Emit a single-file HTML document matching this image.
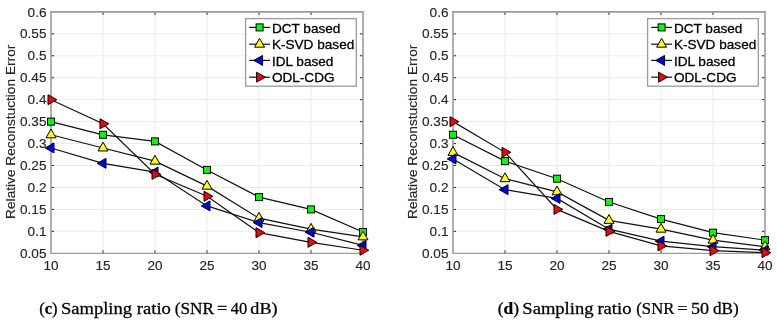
<!DOCTYPE html>
<html><head><meta charset="utf-8"><style>
html,body{margin:0;padding:0;background:#fff;width:777px;height:324px;overflow:hidden}
svg{display:block;will-change:transform}
.t{font-family:"Liberation Sans",sans-serif;font-size:13.6px;fill:#262626;stroke:#262626;stroke-width:0.15px}
.yl{font-size:13.7px}
.lg{font-size:13.6px;fill:#000;stroke:#000;stroke-width:0.3px}
.cap{font-family:"Liberation Serif",serif;font-size:16px;fill:#000;stroke:#000;stroke-width:0.25px}
</style></head><body>
<svg width="777" height="324" viewBox="0 0 777 324">
<rect width="777" height="324" fill="#fff"/>
<line x1="103.00" y1="11.9" x2="103.00" y2="253.3" stroke="#ebebeb" stroke-width="1"/>
<line x1="155.00" y1="11.9" x2="155.00" y2="253.3" stroke="#ebebeb" stroke-width="1"/>
<line x1="207.00" y1="11.9" x2="207.00" y2="253.3" stroke="#ebebeb" stroke-width="1"/>
<line x1="259.00" y1="11.9" x2="259.00" y2="253.3" stroke="#ebebeb" stroke-width="1"/>
<line x1="311.00" y1="11.9" x2="311.00" y2="253.3" stroke="#ebebeb" stroke-width="1"/>
<line x1="51.0" y1="231.35" x2="363.0" y2="231.35" stroke="#ebebeb" stroke-width="1"/>
<line x1="51.0" y1="209.41" x2="363.0" y2="209.41" stroke="#ebebeb" stroke-width="1"/>
<line x1="51.0" y1="187.46" x2="363.0" y2="187.46" stroke="#ebebeb" stroke-width="1"/>
<line x1="51.0" y1="165.52" x2="363.0" y2="165.52" stroke="#ebebeb" stroke-width="1"/>
<line x1="51.0" y1="143.57" x2="363.0" y2="143.57" stroke="#ebebeb" stroke-width="1"/>
<line x1="51.0" y1="121.63" x2="363.0" y2="121.63" stroke="#ebebeb" stroke-width="1"/>
<line x1="51.0" y1="99.68" x2="363.0" y2="99.68" stroke="#ebebeb" stroke-width="1"/>
<line x1="51.0" y1="77.74" x2="363.0" y2="77.74" stroke="#ebebeb" stroke-width="1"/>
<line x1="51.0" y1="55.79" x2="363.0" y2="55.79" stroke="#ebebeb" stroke-width="1"/>
<line x1="51.0" y1="33.85" x2="363.0" y2="33.85" stroke="#ebebeb" stroke-width="1"/>
<line x1="103.00" y1="253.3" x2="103.00" y2="250.3" stroke="#262626" stroke-width="1"/>
<line x1="103.00" y1="11.9" x2="103.00" y2="14.9" stroke="#262626" stroke-width="1"/>
<line x1="155.00" y1="253.3" x2="155.00" y2="250.3" stroke="#262626" stroke-width="1"/>
<line x1="155.00" y1="11.9" x2="155.00" y2="14.9" stroke="#262626" stroke-width="1"/>
<line x1="207.00" y1="253.3" x2="207.00" y2="250.3" stroke="#262626" stroke-width="1"/>
<line x1="207.00" y1="11.9" x2="207.00" y2="14.9" stroke="#262626" stroke-width="1"/>
<line x1="259.00" y1="253.3" x2="259.00" y2="250.3" stroke="#262626" stroke-width="1"/>
<line x1="259.00" y1="11.9" x2="259.00" y2="14.9" stroke="#262626" stroke-width="1"/>
<line x1="311.00" y1="253.3" x2="311.00" y2="250.3" stroke="#262626" stroke-width="1"/>
<line x1="311.00" y1="11.9" x2="311.00" y2="14.9" stroke="#262626" stroke-width="1"/>
<line x1="51.0" y1="231.35" x2="54.0" y2="231.35" stroke="#262626" stroke-width="1"/>
<line x1="363.0" y1="231.35" x2="360.0" y2="231.35" stroke="#262626" stroke-width="1"/>
<line x1="51.0" y1="209.41" x2="54.0" y2="209.41" stroke="#262626" stroke-width="1"/>
<line x1="363.0" y1="209.41" x2="360.0" y2="209.41" stroke="#262626" stroke-width="1"/>
<line x1="51.0" y1="187.46" x2="54.0" y2="187.46" stroke="#262626" stroke-width="1"/>
<line x1="363.0" y1="187.46" x2="360.0" y2="187.46" stroke="#262626" stroke-width="1"/>
<line x1="51.0" y1="165.52" x2="54.0" y2="165.52" stroke="#262626" stroke-width="1"/>
<line x1="363.0" y1="165.52" x2="360.0" y2="165.52" stroke="#262626" stroke-width="1"/>
<line x1="51.0" y1="143.57" x2="54.0" y2="143.57" stroke="#262626" stroke-width="1"/>
<line x1="363.0" y1="143.57" x2="360.0" y2="143.57" stroke="#262626" stroke-width="1"/>
<line x1="51.0" y1="121.63" x2="54.0" y2="121.63" stroke="#262626" stroke-width="1"/>
<line x1="363.0" y1="121.63" x2="360.0" y2="121.63" stroke="#262626" stroke-width="1"/>
<line x1="51.0" y1="99.68" x2="54.0" y2="99.68" stroke="#262626" stroke-width="1"/>
<line x1="363.0" y1="99.68" x2="360.0" y2="99.68" stroke="#262626" stroke-width="1"/>
<line x1="51.0" y1="77.74" x2="54.0" y2="77.74" stroke="#262626" stroke-width="1"/>
<line x1="363.0" y1="77.74" x2="360.0" y2="77.74" stroke="#262626" stroke-width="1"/>
<line x1="51.0" y1="55.79" x2="54.0" y2="55.79" stroke="#262626" stroke-width="1"/>
<line x1="363.0" y1="55.79" x2="360.0" y2="55.79" stroke="#262626" stroke-width="1"/>
<line x1="51.0" y1="33.85" x2="54.0" y2="33.85" stroke="#262626" stroke-width="1"/>
<line x1="363.0" y1="33.85" x2="360.0" y2="33.85" stroke="#262626" stroke-width="1"/>
<path d="M50.2 11.9H363.0V253.3" fill="none" stroke="#9c9c9c" stroke-width="1.6"/>
<path d="M51.0 11.9V253.3" fill="none" stroke="#9c9c9c" stroke-width="1.6"/>
<path d="M50.2 253.4H363.8" fill="none" stroke="#9c9c9c" stroke-width="1.3"/>
<text x="46.50" y="257.90" text-anchor="end" class="t">0.05</text>
<text x="46.50" y="235.95" text-anchor="end" class="t">0.1</text>
<text x="46.50" y="214.01" text-anchor="end" class="t">0.15</text>
<text x="46.50" y="192.06" text-anchor="end" class="t">0.2</text>
<text x="46.50" y="170.12" text-anchor="end" class="t">0.25</text>
<text x="46.50" y="148.17" text-anchor="end" class="t">0.3</text>
<text x="46.50" y="126.23" text-anchor="end" class="t">0.35</text>
<text x="46.50" y="104.28" text-anchor="end" class="t">0.4</text>
<text x="46.50" y="82.34" text-anchor="end" class="t">0.45</text>
<text x="46.50" y="60.39" text-anchor="end" class="t">0.5</text>
<text x="46.50" y="38.45" text-anchor="end" class="t">0.55</text>
<text x="46.50" y="16.50" text-anchor="end" class="t">0.6</text>
<text x="51.00" y="269.8" text-anchor="middle" class="t">10</text>
<text x="103.00" y="269.8" text-anchor="middle" class="t">15</text>
<text x="155.00" y="269.8" text-anchor="middle" class="t">20</text>
<text x="207.00" y="269.8" text-anchor="middle" class="t">25</text>
<text x="259.00" y="269.8" text-anchor="middle" class="t">30</text>
<text x="311.00" y="269.8" text-anchor="middle" class="t">35</text>
<text x="363.00" y="269.8" text-anchor="middle" class="t">40</text>
<text transform="translate(15.3,131.8) rotate(-90)" text-anchor="middle" class="t yl">Relative Reconstuction Error</text>
<polyline points="51.00,121.63 103.00,134.79 155.00,141.38 207.00,169.91 259.00,197.12 311.00,209.41 363.00,232.01" fill="none" stroke="#111" stroke-width="1.2"/>
<rect x="47.50" y="118.13" width="7.00" height="7.00" fill="#00ff00" stroke="#000" stroke-width="1.0"/>
<rect x="99.50" y="131.29" width="7.00" height="7.00" fill="#00ff00" stroke="#000" stroke-width="1.0"/>
<rect x="151.50" y="137.88" width="7.00" height="7.00" fill="#00ff00" stroke="#000" stroke-width="1.0"/>
<rect x="203.50" y="166.41" width="7.00" height="7.00" fill="#00ff00" stroke="#000" stroke-width="1.0"/>
<rect x="255.50" y="193.62" width="7.00" height="7.00" fill="#00ff00" stroke="#000" stroke-width="1.0"/>
<rect x="307.50" y="205.91" width="7.00" height="7.00" fill="#00ff00" stroke="#000" stroke-width="1.0"/>
<rect x="359.50" y="228.51" width="7.00" height="7.00" fill="#00ff00" stroke="#000" stroke-width="1.0"/>
<polyline points="51.00,134.79 103.00,147.96 155.00,161.13 207.00,186.15 259.00,218.19 311.00,229.16 363.00,236.84" fill="none" stroke="#111" stroke-width="1.2"/>
<path d="M51.00 128.99L56.00 137.79L46.00 137.79Z" fill="#ffff00" stroke="#000" stroke-width="1.0" stroke-linejoin="round"/>
<path d="M103.00 142.16L108.00 150.96L98.00 150.96Z" fill="#ffff00" stroke="#000" stroke-width="1.0" stroke-linejoin="round"/>
<path d="M155.00 155.33L160.00 164.13L150.00 164.13Z" fill="#ffff00" stroke="#000" stroke-width="1.0" stroke-linejoin="round"/>
<path d="M207.00 180.35L212.00 189.15L202.00 189.15Z" fill="#ffff00" stroke="#000" stroke-width="1.0" stroke-linejoin="round"/>
<path d="M259.00 212.39L264.00 221.19L254.00 221.19Z" fill="#ffff00" stroke="#000" stroke-width="1.0" stroke-linejoin="round"/>
<path d="M311.00 223.36L316.00 232.16L306.00 232.16Z" fill="#ffff00" stroke="#000" stroke-width="1.0" stroke-linejoin="round"/>
<path d="M363.00 231.04L368.00 239.84L358.00 239.84Z" fill="#ffff00" stroke="#000" stroke-width="1.0" stroke-linejoin="round"/>
<polyline points="51.00,147.96 103.00,163.32 155.00,172.10 207.00,205.90 259.00,222.58 311.00,232.23 363.00,245.40" fill="none" stroke="#111" stroke-width="1.2"/>
<path d="M45.20 147.96L54.00 142.96L54.00 152.96Z" fill="#0000ff" stroke="#000" stroke-width="1.0" stroke-linejoin="round"/>
<path d="M97.20 163.32L106.00 158.32L106.00 168.32Z" fill="#0000ff" stroke="#000" stroke-width="1.0" stroke-linejoin="round"/>
<path d="M149.20 172.10L158.00 167.10L158.00 177.10Z" fill="#0000ff" stroke="#000" stroke-width="1.0" stroke-linejoin="round"/>
<path d="M201.20 205.90L210.00 200.90L210.00 210.90Z" fill="#0000ff" stroke="#000" stroke-width="1.0" stroke-linejoin="round"/>
<path d="M253.20 222.58L262.00 217.58L262.00 227.58Z" fill="#0000ff" stroke="#000" stroke-width="1.0" stroke-linejoin="round"/>
<path d="M305.20 232.23L314.00 227.23L314.00 237.23Z" fill="#0000ff" stroke="#000" stroke-width="1.0" stroke-linejoin="round"/>
<path d="M357.20 245.40L366.00 240.40L366.00 250.40Z" fill="#0000ff" stroke="#000" stroke-width="1.0" stroke-linejoin="round"/>
<polyline points="51.00,99.68 103.00,123.82 155.00,174.30 207.00,196.24 259.00,232.67 311.00,242.33 363.00,250.23" fill="none" stroke="#111" stroke-width="1.2"/>
<path d="M56.80 99.68L48.00 94.68L48.00 104.68Z" fill="#ff0000" stroke="#000" stroke-width="1.0" stroke-linejoin="round"/>
<path d="M108.80 123.82L100.00 118.82L100.00 128.82Z" fill="#ff0000" stroke="#000" stroke-width="1.0" stroke-linejoin="round"/>
<path d="M160.80 174.30L152.00 169.30L152.00 179.30Z" fill="#ff0000" stroke="#000" stroke-width="1.0" stroke-linejoin="round"/>
<path d="M212.80 196.24L204.00 191.24L204.00 201.24Z" fill="#ff0000" stroke="#000" stroke-width="1.0" stroke-linejoin="round"/>
<path d="M264.80 232.67L256.00 227.67L256.00 237.67Z" fill="#ff0000" stroke="#000" stroke-width="1.0" stroke-linejoin="round"/>
<path d="M316.80 242.33L308.00 237.33L308.00 247.33Z" fill="#ff0000" stroke="#000" stroke-width="1.0" stroke-linejoin="round"/>
<path d="M368.80 250.23L360.00 245.23L360.00 255.23Z" fill="#ff0000" stroke="#000" stroke-width="1.0" stroke-linejoin="round"/>
<rect x="245.6" y="18.6" width="110.70" height="67.60" fill="#fff" stroke="#9c9c9c" stroke-width="1.3"/>
<line x1="249.2" y1="27.40" x2="270" y2="27.40" stroke="#111" stroke-width="1.2"/>
<rect x="256.10" y="23.90" width="7.00" height="7.00" fill="#00ff00" stroke="#000" stroke-width="1.0"/>
<text x="271.9" y="32.50" class="t lg">DCT based</text>
<line x1="249.2" y1="44.20" x2="270" y2="44.20" stroke="#111" stroke-width="1.2"/>
<path d="M259.60 38.40L264.60 47.20L254.60 47.20Z" fill="#ffff00" stroke="#000" stroke-width="1.0" stroke-linejoin="round"/>
<text x="271.9" y="49.30" class="t lg">K-SVD based</text>
<line x1="249.2" y1="60.40" x2="270" y2="60.40" stroke="#111" stroke-width="1.2"/>
<path d="M253.80 60.40L262.60 55.40L262.60 65.40Z" fill="#0000ff" stroke="#000" stroke-width="1.0" stroke-linejoin="round"/>
<text x="271.9" y="65.50" class="t lg">IDL based</text>
<line x1="249.2" y1="77.20" x2="270" y2="77.20" stroke="#111" stroke-width="1.2"/>
<path d="M265.40 77.20L256.60 72.20L256.60 82.20Z" fill="#ff0000" stroke="#000" stroke-width="1.0" stroke-linejoin="round"/>
<text x="271.9" y="82.30" class="t lg">ODL-CDG</text>
<line x1="505.00" y1="11.9" x2="505.00" y2="253.3" stroke="#ebebeb" stroke-width="1"/>
<line x1="557.00" y1="11.9" x2="557.00" y2="253.3" stroke="#ebebeb" stroke-width="1"/>
<line x1="609.00" y1="11.9" x2="609.00" y2="253.3" stroke="#ebebeb" stroke-width="1"/>
<line x1="661.00" y1="11.9" x2="661.00" y2="253.3" stroke="#ebebeb" stroke-width="1"/>
<line x1="713.00" y1="11.9" x2="713.00" y2="253.3" stroke="#ebebeb" stroke-width="1"/>
<line x1="453.0" y1="231.35" x2="765.0" y2="231.35" stroke="#ebebeb" stroke-width="1"/>
<line x1="453.0" y1="209.41" x2="765.0" y2="209.41" stroke="#ebebeb" stroke-width="1"/>
<line x1="453.0" y1="187.46" x2="765.0" y2="187.46" stroke="#ebebeb" stroke-width="1"/>
<line x1="453.0" y1="165.52" x2="765.0" y2="165.52" stroke="#ebebeb" stroke-width="1"/>
<line x1="453.0" y1="143.57" x2="765.0" y2="143.57" stroke="#ebebeb" stroke-width="1"/>
<line x1="453.0" y1="121.63" x2="765.0" y2="121.63" stroke="#ebebeb" stroke-width="1"/>
<line x1="453.0" y1="99.68" x2="765.0" y2="99.68" stroke="#ebebeb" stroke-width="1"/>
<line x1="453.0" y1="77.74" x2="765.0" y2="77.74" stroke="#ebebeb" stroke-width="1"/>
<line x1="453.0" y1="55.79" x2="765.0" y2="55.79" stroke="#ebebeb" stroke-width="1"/>
<line x1="453.0" y1="33.85" x2="765.0" y2="33.85" stroke="#ebebeb" stroke-width="1"/>
<line x1="505.00" y1="253.3" x2="505.00" y2="250.3" stroke="#262626" stroke-width="1"/>
<line x1="505.00" y1="11.9" x2="505.00" y2="14.9" stroke="#262626" stroke-width="1"/>
<line x1="557.00" y1="253.3" x2="557.00" y2="250.3" stroke="#262626" stroke-width="1"/>
<line x1="557.00" y1="11.9" x2="557.00" y2="14.9" stroke="#262626" stroke-width="1"/>
<line x1="609.00" y1="253.3" x2="609.00" y2="250.3" stroke="#262626" stroke-width="1"/>
<line x1="609.00" y1="11.9" x2="609.00" y2="14.9" stroke="#262626" stroke-width="1"/>
<line x1="661.00" y1="253.3" x2="661.00" y2="250.3" stroke="#262626" stroke-width="1"/>
<line x1="661.00" y1="11.9" x2="661.00" y2="14.9" stroke="#262626" stroke-width="1"/>
<line x1="713.00" y1="253.3" x2="713.00" y2="250.3" stroke="#262626" stroke-width="1"/>
<line x1="713.00" y1="11.9" x2="713.00" y2="14.9" stroke="#262626" stroke-width="1"/>
<line x1="453.0" y1="231.35" x2="456.0" y2="231.35" stroke="#262626" stroke-width="1"/>
<line x1="765.0" y1="231.35" x2="762.0" y2="231.35" stroke="#262626" stroke-width="1"/>
<line x1="453.0" y1="209.41" x2="456.0" y2="209.41" stroke="#262626" stroke-width="1"/>
<line x1="765.0" y1="209.41" x2="762.0" y2="209.41" stroke="#262626" stroke-width="1"/>
<line x1="453.0" y1="187.46" x2="456.0" y2="187.46" stroke="#262626" stroke-width="1"/>
<line x1="765.0" y1="187.46" x2="762.0" y2="187.46" stroke="#262626" stroke-width="1"/>
<line x1="453.0" y1="165.52" x2="456.0" y2="165.52" stroke="#262626" stroke-width="1"/>
<line x1="765.0" y1="165.52" x2="762.0" y2="165.52" stroke="#262626" stroke-width="1"/>
<line x1="453.0" y1="143.57" x2="456.0" y2="143.57" stroke="#262626" stroke-width="1"/>
<line x1="765.0" y1="143.57" x2="762.0" y2="143.57" stroke="#262626" stroke-width="1"/>
<line x1="453.0" y1="121.63" x2="456.0" y2="121.63" stroke="#262626" stroke-width="1"/>
<line x1="765.0" y1="121.63" x2="762.0" y2="121.63" stroke="#262626" stroke-width="1"/>
<line x1="453.0" y1="99.68" x2="456.0" y2="99.68" stroke="#262626" stroke-width="1"/>
<line x1="765.0" y1="99.68" x2="762.0" y2="99.68" stroke="#262626" stroke-width="1"/>
<line x1="453.0" y1="77.74" x2="456.0" y2="77.74" stroke="#262626" stroke-width="1"/>
<line x1="765.0" y1="77.74" x2="762.0" y2="77.74" stroke="#262626" stroke-width="1"/>
<line x1="453.0" y1="55.79" x2="456.0" y2="55.79" stroke="#262626" stroke-width="1"/>
<line x1="765.0" y1="55.79" x2="762.0" y2="55.79" stroke="#262626" stroke-width="1"/>
<line x1="453.0" y1="33.85" x2="456.0" y2="33.85" stroke="#262626" stroke-width="1"/>
<line x1="765.0" y1="33.85" x2="762.0" y2="33.85" stroke="#262626" stroke-width="1"/>
<path d="M452.2 11.9H765.0V253.3" fill="none" stroke="#9c9c9c" stroke-width="1.6"/>
<path d="M453.0 11.9V253.3" fill="none" stroke="#9c9c9c" stroke-width="1.6"/>
<path d="M452.2 253.4H765.8" fill="none" stroke="#9c9c9c" stroke-width="1.3"/>
<text x="448.50" y="257.90" text-anchor="end" class="t">0.05</text>
<text x="448.50" y="235.95" text-anchor="end" class="t">0.1</text>
<text x="448.50" y="214.01" text-anchor="end" class="t">0.15</text>
<text x="448.50" y="192.06" text-anchor="end" class="t">0.2</text>
<text x="448.50" y="170.12" text-anchor="end" class="t">0.25</text>
<text x="448.50" y="148.17" text-anchor="end" class="t">0.3</text>
<text x="448.50" y="126.23" text-anchor="end" class="t">0.35</text>
<text x="448.50" y="104.28" text-anchor="end" class="t">0.4</text>
<text x="448.50" y="82.34" text-anchor="end" class="t">0.45</text>
<text x="448.50" y="60.39" text-anchor="end" class="t">0.5</text>
<text x="448.50" y="38.45" text-anchor="end" class="t">0.55</text>
<text x="448.50" y="16.50" text-anchor="end" class="t">0.6</text>
<text x="453.00" y="269.8" text-anchor="middle" class="t">10</text>
<text x="505.00" y="269.8" text-anchor="middle" class="t">15</text>
<text x="557.00" y="269.8" text-anchor="middle" class="t">20</text>
<text x="609.00" y="269.8" text-anchor="middle" class="t">25</text>
<text x="661.00" y="269.8" text-anchor="middle" class="t">30</text>
<text x="713.00" y="269.8" text-anchor="middle" class="t">35</text>
<text x="765.00" y="269.8" text-anchor="middle" class="t">40</text>
<text transform="translate(417.3,131.8) rotate(-90)" text-anchor="middle" class="t yl">Relative Reconstuction Error</text>
<polyline points="453.00,134.79 505.00,161.13 557.00,178.69 609.00,201.95 661.00,219.07 713.00,232.67 765.00,240.13" fill="none" stroke="#111" stroke-width="1.2"/>
<rect x="449.50" y="131.29" width="7.00" height="7.00" fill="#00ff00" stroke="#000" stroke-width="1.0"/>
<rect x="501.50" y="157.63" width="7.00" height="7.00" fill="#00ff00" stroke="#000" stroke-width="1.0"/>
<rect x="553.50" y="175.19" width="7.00" height="7.00" fill="#00ff00" stroke="#000" stroke-width="1.0"/>
<rect x="605.50" y="198.45" width="7.00" height="7.00" fill="#00ff00" stroke="#000" stroke-width="1.0"/>
<rect x="657.50" y="215.57" width="7.00" height="7.00" fill="#00ff00" stroke="#000" stroke-width="1.0"/>
<rect x="709.50" y="229.17" width="7.00" height="7.00" fill="#00ff00" stroke="#000" stroke-width="1.0"/>
<rect x="761.50" y="236.63" width="7.00" height="7.00" fill="#00ff00" stroke="#000" stroke-width="1.0"/>
<polyline points="453.00,152.35 505.00,178.69 557.00,191.85 609.00,220.38 661.00,229.16 713.00,240.13 765.00,246.72" fill="none" stroke="#111" stroke-width="1.2"/>
<path d="M453.00 146.55L458.00 155.35L448.00 155.35Z" fill="#ffff00" stroke="#000" stroke-width="1.0" stroke-linejoin="round"/>
<path d="M505.00 172.89L510.00 181.69L500.00 181.69Z" fill="#ffff00" stroke="#000" stroke-width="1.0" stroke-linejoin="round"/>
<path d="M557.00 186.05L562.00 194.85L552.00 194.85Z" fill="#ffff00" stroke="#000" stroke-width="1.0" stroke-linejoin="round"/>
<path d="M609.00 214.58L614.00 223.38L604.00 223.38Z" fill="#ffff00" stroke="#000" stroke-width="1.0" stroke-linejoin="round"/>
<path d="M661.00 223.36L666.00 232.16L656.00 232.16Z" fill="#ffff00" stroke="#000" stroke-width="1.0" stroke-linejoin="round"/>
<path d="M713.00 234.33L718.00 243.13L708.00 243.13Z" fill="#ffff00" stroke="#000" stroke-width="1.0" stroke-linejoin="round"/>
<path d="M765.00 240.92L770.00 249.72L760.00 249.72Z" fill="#ffff00" stroke="#000" stroke-width="1.0" stroke-linejoin="round"/>
<polyline points="453.00,158.93 505.00,189.66 557.00,198.44 609.00,229.16 661.00,241.14 713.00,246.72 765.00,250.23" fill="none" stroke="#111" stroke-width="1.2"/>
<path d="M447.20 158.93L456.00 153.93L456.00 163.93Z" fill="#0000ff" stroke="#000" stroke-width="1.0" stroke-linejoin="round"/>
<path d="M499.20 189.66L508.00 184.66L508.00 194.66Z" fill="#0000ff" stroke="#000" stroke-width="1.0" stroke-linejoin="round"/>
<path d="M551.20 198.44L560.00 193.44L560.00 203.44Z" fill="#0000ff" stroke="#000" stroke-width="1.0" stroke-linejoin="round"/>
<path d="M603.20 229.16L612.00 224.16L612.00 234.16Z" fill="#0000ff" stroke="#000" stroke-width="1.0" stroke-linejoin="round"/>
<path d="M655.20 241.14L664.00 236.14L664.00 246.14Z" fill="#0000ff" stroke="#000" stroke-width="1.0" stroke-linejoin="round"/>
<path d="M707.20 246.72L716.00 241.72L716.00 251.72Z" fill="#0000ff" stroke="#000" stroke-width="1.0" stroke-linejoin="round"/>
<path d="M759.20 250.23L768.00 245.23L768.00 255.23Z" fill="#0000ff" stroke="#000" stroke-width="1.0" stroke-linejoin="round"/>
<polyline points="453.00,121.63 505.00,152.35 557.00,209.41 609.00,231.35 661.00,245.93 713.00,250.67 765.00,252.69" fill="none" stroke="#111" stroke-width="1.2"/>
<path d="M458.80 121.63L450.00 116.63L450.00 126.63Z" fill="#ff0000" stroke="#000" stroke-width="1.0" stroke-linejoin="round"/>
<path d="M510.80 152.35L502.00 147.35L502.00 157.35Z" fill="#ff0000" stroke="#000" stroke-width="1.0" stroke-linejoin="round"/>
<path d="M562.80 209.41L554.00 204.41L554.00 214.41Z" fill="#ff0000" stroke="#000" stroke-width="1.0" stroke-linejoin="round"/>
<path d="M614.80 231.35L606.00 226.35L606.00 236.35Z" fill="#ff0000" stroke="#000" stroke-width="1.0" stroke-linejoin="round"/>
<path d="M666.80 245.93L658.00 240.93L658.00 250.93Z" fill="#ff0000" stroke="#000" stroke-width="1.0" stroke-linejoin="round"/>
<path d="M718.80 250.67L710.00 245.67L710.00 255.67Z" fill="#ff0000" stroke="#000" stroke-width="1.0" stroke-linejoin="round"/>
<path d="M770.80 252.69L762.00 247.69L762.00 257.69Z" fill="#ff0000" stroke="#000" stroke-width="1.0" stroke-linejoin="round"/>
<rect x="647.6" y="18.6" width="110.70" height="67.60" fill="#fff" stroke="#9c9c9c" stroke-width="1.3"/>
<line x1="651.2" y1="27.40" x2="672" y2="27.40" stroke="#111" stroke-width="1.2"/>
<rect x="658.10" y="23.90" width="7.00" height="7.00" fill="#00ff00" stroke="#000" stroke-width="1.0"/>
<text x="673.9" y="32.50" class="t lg">DCT based</text>
<line x1="651.2" y1="44.20" x2="672" y2="44.20" stroke="#111" stroke-width="1.2"/>
<path d="M661.60 38.40L666.60 47.20L656.60 47.20Z" fill="#ffff00" stroke="#000" stroke-width="1.0" stroke-linejoin="round"/>
<text x="673.9" y="49.30" class="t lg">K-SVD based</text>
<line x1="651.2" y1="60.40" x2="672" y2="60.40" stroke="#111" stroke-width="1.2"/>
<path d="M655.80 60.40L664.60 55.40L664.60 65.40Z" fill="#0000ff" stroke="#000" stroke-width="1.0" stroke-linejoin="round"/>
<text x="673.9" y="65.50" class="t lg">IDL based</text>
<line x1="651.2" y1="77.20" x2="672" y2="77.20" stroke="#111" stroke-width="1.2"/>
<path d="M667.40 77.20L658.60 72.20L658.60 82.20Z" fill="#ff0000" stroke="#000" stroke-width="1.0" stroke-linejoin="round"/>
<text x="673.9" y="82.30" class="t lg">ODL-CDG</text>
<text transform="translate(39.17,313.7) scale(1.0335,1)" class="cap">(<tspan font-weight="bold">c</tspan>)</text>
<text transform="translate(60.96,313.7) scale(1.1593,1)" class="cap">Sampling</text>
<text transform="translate(136.73,313.7) scale(1.1655,1)" class="cap">ratio</text>
<text transform="translate(174.64,313.7) scale(1.0804,1)" class="cap">(SNR</text>
<text transform="translate(216.99,313.7) scale(1.1425,1)" class="cap">=</text>
<text transform="translate(230.67,313.7) scale(1.0284,1)" class="cap">40</text>
<text transform="translate(250.35,313.7) scale(1.1356,1)" class="cap">dB)</text>
<text transform="translate(497.74,313.7) scale(1.0858,1)" class="cap">(<tspan font-weight="bold">d</tspan>)</text>
<text transform="translate(522.36,313.7) scale(1.1593,1)" class="cap">Sampling</text>
<text transform="translate(597.43,313.7) scale(1.1620,1)" class="cap">ratio</text>
<text transform="translate(636.26,313.7) scale(1.0468,1)" class="cap">(SNR</text>
<text transform="translate(677.16,313.7) scale(1.1694,1)" class="cap">=</text>
<text transform="translate(690.95,313.7) scale(1.1338,1)" class="cap">50</text>
<text transform="translate(712.88,313.7) scale(1.0739,1)" class="cap">dB)</text>
</svg>
</body></html>
